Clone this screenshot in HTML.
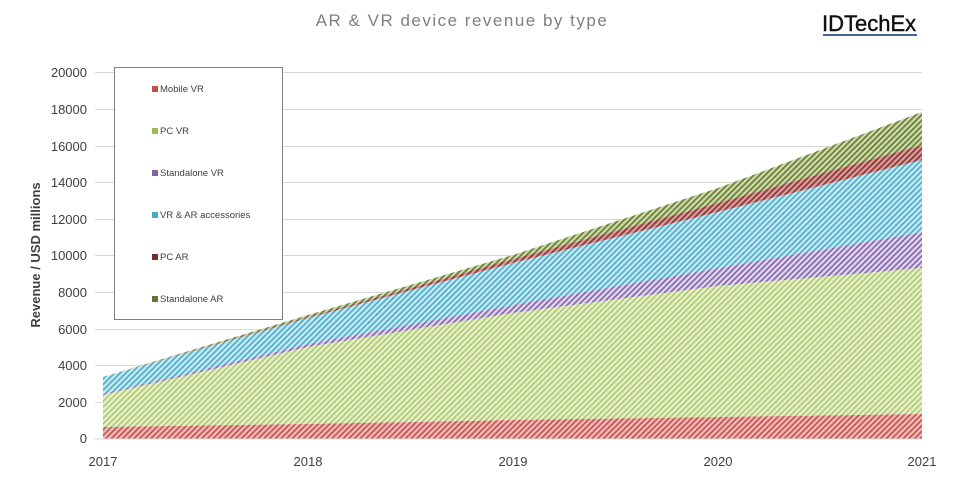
<!DOCTYPE html>
<html><head><meta charset="utf-8"><style>
body{margin:0;background:#fff;width:968px;height:484px;overflow:hidden;font-family:"Liberation Sans",sans-serif}
</style></head><body>
<svg width="968" height="484" xmlns="http://www.w3.org/2000/svg" font-family="Liberation Sans, sans-serif">
<defs>
<pattern id="pr" width="4" height="4" patternUnits="userSpaceOnUse" patternTransform="rotate(45)"><rect width="4" height="4" fill="#f0b8b6"/><rect width="1.6" height="4" fill="#c0504d"/></pattern>
<pattern id="pg" width="4" height="4" patternUnits="userSpaceOnUse" patternTransform="rotate(45)"><rect width="4" height="4" fill="#e4efc6"/><rect width="1.4" height="4" fill="#a9c46a"/></pattern>
<pattern id="pp" width="4" height="4" patternUnits="userSpaceOnUse" patternTransform="rotate(45)"><rect width="4" height="4" fill="#e0d4ef"/><rect width="1.6" height="4" fill="#8064a2"/></pattern>
<pattern id="pb" width="4" height="4" patternUnits="userSpaceOnUse" patternTransform="rotate(45)"><rect width="4" height="4" fill="#c4e8f2"/><rect width="1.6" height="4" fill="#4bacc6"/></pattern>
<pattern id="pd" width="4" height="4" patternUnits="userSpaceOnUse" patternTransform="rotate(45)"><rect width="4" height="4" fill="#d9a09e"/><rect width="1.8" height="4" fill="#8c3836"/></pattern>
<pattern id="po" width="4" height="4" patternUnits="userSpaceOnUse" patternTransform="rotate(45)"><rect width="4" height="4" fill="#cfdcab"/><rect width="1.8" height="4" fill="#6b7f3a"/></pattern>
</defs>
<text x="462" y="26" text-anchor="middle" font-size="17" fill="#7f7f7f" letter-spacing="1.5">AR &amp; VR device revenue by type</text>
<text x="822" y="31" font-size="22" fill="#111" stroke="#111" stroke-width="0.4">IDTechEx</text>
<rect x="823" y="34" width="94" height="2" fill="#44659a"/>
<g stroke="#d9d9d9" stroke-width="1">
<line x1="95" x2="922" y1="72.5" y2="72.5"/><line x1="95" x2="922" y1="109.5" y2="109.5"/><line x1="95" x2="922" y1="146.5" y2="146.5"/><line x1="95" x2="922" y1="182.5" y2="182.5"/><line x1="95" x2="922" y1="219.5" y2="219.5"/><line x1="95" x2="922" y1="255.5" y2="255.5"/><line x1="95" x2="922" y1="292.5" y2="292.5"/><line x1="95" x2="922" y1="329.5" y2="329.5"/><line x1="95" x2="922" y1="365.5" y2="365.5"/><line x1="95" x2="922" y1="402.5" y2="402.5"/>
</g>
<g font-size="13" fill="#404040" text-anchor="end">
<text x="87" y="77">20000</text><text x="87" y="114">18000</text><text x="87" y="151">16000</text><text x="87" y="187">14000</text><text x="87" y="224">12000</text><text x="87" y="260">10000</text><text x="87" y="297">8000</text><text x="87" y="334">6000</text><text x="87" y="370">4000</text><text x="87" y="407">2000</text><text x="87" y="443">0</text>
</g>
<text transform="translate(40,255) rotate(-90)" text-anchor="middle" font-size="13" font-weight="bold" fill="#404040">Revenue / USD millions</text>
<polygon fill="url(#po)" points="103,377 308,315 513,255 718,188 922,112 922,145 718,203 513,259 308,317 103,377"/>
<polygon fill="url(#pd)" points="103,377 308,317 513,259 718,203 922,145 922,160 718,212 513,263 308,318 103,377"/>
<polygon fill="url(#pb)" points="103,377 308,318 513,263 718,212 922,160 922,232 718,268 513,305 308,344 103,394"/>
<polygon fill="url(#pp)" points="103,394 308,344 513,305 718,268 922,232 922,268 718,286 513,313 308,347 103,395"/>
<polygon fill="url(#pg)" points="103,395 308,347 513,313 718,286 922,268 922,414 718,417 513,420 308,424 103,427"/>
<polygon fill="url(#pr)" points="103,427 308,424 513,420 718,417 922,414 922,439 103,439"/>
<line x1="95" x2="922" y1="439" y2="439" stroke="#d9d9d9"/>
<g font-size="13" fill="#404040" text-anchor="middle">
<text x="103" y="466">2017</text><text x="308" y="466">2018</text><text x="513" y="466">2019</text><text x="718" y="466">2020</text><text x="922" y="466">2021</text>
</g>
<rect x="114.5" y="67.5" width="168" height="252" fill="#fff" stroke="#7f7f7f"/>
<g font-size="9.5" fill="#404040">
<rect x="152" y="86" width="6" height="6" fill="#c0504d"/><text x="160" y="92">Mobile VR</text>
<rect x="152" y="128" width="6" height="6" fill="#9bbb59"/><text x="160" y="134">PC VR</text>
<rect x="152" y="170" width="6" height="6" fill="#8064a2"/><text x="160" y="176">Standalone VR</text>
<rect x="152" y="212" width="6" height="6" fill="#4bacc6"/><text x="160" y="218">VR &amp; AR accessories</text>
<rect x="152" y="254" width="6" height="6" fill="#772c2a"/><text x="160" y="260">PC AR</text>
<rect x="152" y="296" width="6" height="6" fill="#5f7530"/><text x="160" y="302">Standalone AR</text>
</g>
</svg>
</body></html>
